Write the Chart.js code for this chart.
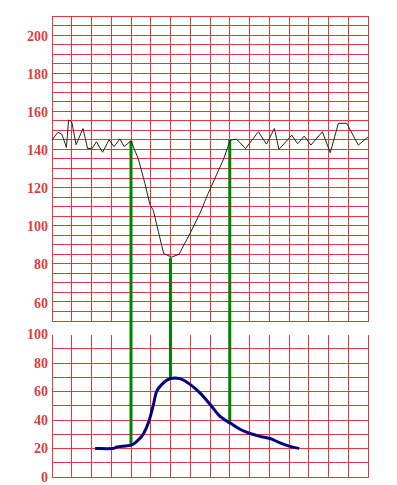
<!DOCTYPE html>
<html>
<head>
<meta charset="utf-8">
<script src="https://cdn.jsdelivr.net/npm/chart.js@4/dist/chart.umd.min.js"></script>
<style>
  html, body { margin: 0; padding: 0; background: #fff; }
  #wrap { width: 397px; height: 485px; }
</style>
</head>
<body>
<div id="wrap"><canvas id="ctg"></canvas></div>
<script>
// fetal heart rate trace (top panel), x in grid columns 0..16
const fhrX = [0, 0.3, 0.5, 0.73, 0.84, 1.0, 1.22, 1.57, 1.8, 2.03, 2.25, 2.56, 2.89, 3.14, 3.44, 3.65, 4.0,
  4.37, 4.71, 4.96, 5.13, 5.65, 6.05, 6.43, 6.99, 7.49, 7.91, 8.67, 9.03, 9.35, 9.8, 10.45, 10.86, 11.26,
  11.49, 12.14, 12.44, 12.77, 13.11, 13.69, 14.09, 14.5, 14.92, 15.51, 16];
const fhrY = [145, 149, 148, 141, 155.5, 154.5, 142.5, 151, 140.5, 140.5, 144, 138.5, 145, 141.5, 145.5, 141.5, 144.5,
  135, 122, 111, 108, 85.5, 83.5, 85, 96, 106.5, 117, 134.5, 145, 145.3, 140.5, 149.3, 142.8, 151,
  140, 147.5, 143, 147, 142.3, 149.3, 138.3, 153.7, 153.7, 142.3, 146.5];

// uterine contraction trace (bottom panel)
const tocoX = [2.18, 3.1, 3.28, 4.04, 4.37, 4.62, 4.88, 5.13, 5.3, 5.64, 5.97, 6.48, 6.99, 7.49, 8.0, 8.51,
  9.06, 9.52, 10.03, 10.53, 11.04, 11.54, 12.05, 12.52];
const tocoY = [20, 20, 21, 22.5, 26, 30, 38, 50.5, 60, 66, 69, 69, 65, 59, 51, 42.5,
  37.5, 33.5, 30.5, 28.5, 27, 24, 21.5, 20];

// green markers linking the two traces
const markX = [4, 6, 9];
const markTop = [144.5, 83, 145];
const markBottom = [22.5, 69.5, 37.5];

// tick labels
const topLabels = [60, 80, 100, 120, 140, 160, 180, 200];
const bottomLabels = [0, 20, 40, 60, 80, 100];

const RED = '#e03a3a';
const labelFont = { family: 'Liberation Serif', size: 14, weight: 'bold' };

const pts = (xs, ys) => xs.map((x, i) => ({ x: x, y: ys[i] }));

const panelPlugin = {
  id: 'panels',
  beforeDatasetsDraw(chart) {
    const ctx = chart.ctx;
    const area = chart.chartArea;
    const top = chart.scales.y;
    const bot = chart.scales.y2;
    const gy0 = Math.round(top.getPixelForValue(top.min)) + 1;
    const gy1 = Math.round(bot.getPixelForValue(bot.max)) - 1;
    ctx.save();
    ctx.fillStyle = '#fff';
    ctx.fillRect(area.left - 2, gy0, area.width + 4, gy1 - gy0 + 1);
    // green connecting lines
    const xs = chart.scales.x;
    ctx.strokeStyle = '#008000';
    ctx.lineWidth = 3;
    markX.forEach((m, i) => {
      const px = xs.getPixelForValue(m);
      ctx.beginPath();
      ctx.moveTo(px, top.getPixelForValue(markTop[i]));
      ctx.lineTo(px, bot.getPixelForValue(markBottom[i]));
      ctx.stroke();
    });
    ctx.restore();
  }
};

// fixed axis width, and no extra room for labels hanging past the ends
const fixWidth = s => { s.width = 52; s.paddingTop = 0; s.paddingBottom = 0; };

new Chart(document.getElementById('ctg'), {
  type: 'line',
  data: {
    datasets: [
      { data: pts(fhrX, fhrY), yAxisID: 'y', borderColor: '#222', borderWidth: 1, pointRadius: 0, tension: 0 },
      { data: pts(tocoX, tocoY), yAxisID: 'y2', borderColor: '#000080', borderWidth: 3, pointRadius: 0, tension: 0.3 }
    ]
  },
  options: {
    responsive: true,
    maintainAspectRatio: false,
    animation: false,
    layout: { padding: { top: 16, right: 29, bottom: 8, left: 0 } },
    plugins: { legend: { display: false }, tooltip: { enabled: false } },
    scales: {
      x: {
        type: 'linear', min: 0, max: 16,
        ticks: { stepSize: 1, display: false },
        grid: { color: RED, drawTicks: false },
        border: { color: RED },
        afterFit: s => { s.height = 0; s.paddingLeft = 0; s.paddingRight = 0; }
      },
      y2: {
        type: 'linear', position: 'left', stack: 'ctg', stackWeight: 142.5,
        min: 0, max: 100,
        ticks: { stepSize: 10, autoSkip: false, padding: 4, labelOffset: 1, color: RED, font: labelFont,
          callback: v => bottomLabels.includes(v) ? v : '' },
        grid: { color: RED, drawTicks: false },
        border: { color: RED },
        afterFit: fixWidth
      },
      gap: {
        type: 'linear', position: 'left', stack: 'ctg', stackWeight: 13.5,
        min: 0, max: 1,
        ticks: { display: false },
        grid: { display: false },
        border: { display: false },
        afterFit: fixWidth
      },
      y: {
        type: 'linear', position: 'left', stack: 'ctg', stackWeight: 305,
        min: 50, max: 210,
        ticks: { stepSize: 5, autoSkip: false, padding: 4, labelOffset: 2, color: RED, font: labelFont,
          callback: v => topLabels.includes(v) ? v : '' },
        grid: { color: RED, drawTicks: false },
        border: { color: RED },
        afterFit: fixWidth
      }
    }
  },
  plugins: [panelPlugin]
});
</script>
</body>
</html>
